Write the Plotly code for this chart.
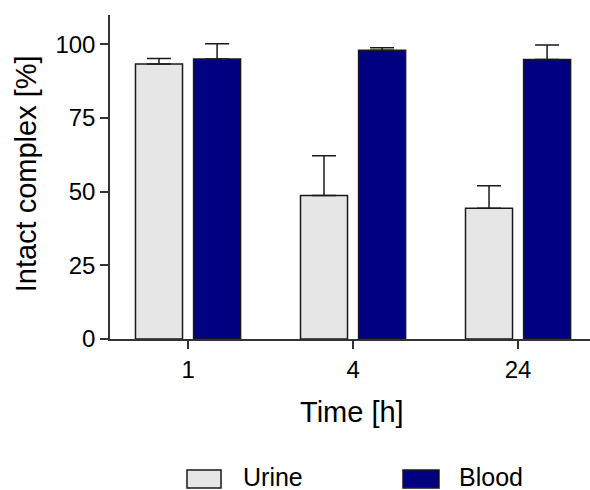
import plotly.graph_objects as go

categories = ["1", "4", "24"]
urine = [93.4, 48.7, 44.4]
urine_err = [1.8, 13.5, 7.6]
blood = [95.1, 98.0, 94.9]
blood_err = [5.1, 0.9, 4.9]
y_ticks = [0, 25, 50, 75, 100]

FONT = "Arial, Liberation Sans, sans-serif"
URINE_C = "#e6e6e6"
BLOOD_C = "#000080"
LINE_C = "#1a1a1a"
BAR_W = 0.285
HALF_SEP = 0.176

fig = go.Figure()
fig.add_trace(go.Bar(
    x=categories, y=urine, name="Urine",
    width=BAR_W, offset=-HALF_SEP - BAR_W / 2,
    marker=dict(color=URINE_C, line=dict(color=LINE_C, width=1.5)),
    error_y=dict(type="data", array=urine_err, symmetric=False, arrayminus=[0]*3,
                 color=LINE_C, thickness=1.5, width=12),
))
fig.add_trace(go.Bar(
    x=categories, y=blood, name="Blood",
    width=BAR_W, offset=HALF_SEP - BAR_W / 2,
    marker=dict(color=BLOOD_C, line=dict(color=LINE_C, width=1.5)),
    error_y=dict(type="data", array=blood_err, symmetric=False, arrayminus=[0]*3,
                 color=LINE_C, thickness=1.5, width=12),
))

fig.update_layout(
    width=590, height=490,
    margin=dict(l=110, r=0, t=15, b=151),
    paper_bgcolor="white", plot_bgcolor="white",
    barmode="overlay",
    showlegend=False,
    font=dict(family=FONT, size=24, color="black"),
)
fig.update_xaxes(
    type="category", range=[-0.473, 2.436],
    showline=True, linecolor="#333333", linewidth=1.5,
    ticks="outside", ticklen=8, tickwidth=1.5, tickcolor="#333333",
    showgrid=False, zeroline=False,
    tickfont=dict(size=24),
)
fig.update_yaxes(
    range=[0, 110], tickvals=y_ticks,
    showline=True, linecolor="#333333", linewidth=1.5,
    ticks="outside", ticklen=8, tickwidth=1.5, tickcolor="#333333",
    showgrid=False, zeroline=False,
    tickfont=dict(size=24),
)

annotations = [
    dict(text="Intact complex [%]", xref="paper", yref="paper", x=-0.176, y=0.51,
         textangle=-90, showarrow=False, xanchor="center", yanchor="middle",
         font=dict(size=29)),
    dict(text="Time [h]", xref="paper", yref="paper", x=0.505, y=-0.225,
         showarrow=False, xanchor="center", yanchor="middle", font=dict(size=29)),
    dict(text="Urine", xref="paper", yref="paper", x=0.273, y=-0.425,
         showarrow=False, xanchor="left", yanchor="middle", font=dict(size=25)),
    dict(text="Blood", xref="paper", yref="paper", x=0.723, y=-0.425,
         showarrow=False, xanchor="left", yanchor="middle", font=dict(size=25)),
]
shapes = [
    dict(type="rect", xref="paper", yref="paper", x0=0.1604, x1=0.2313, y0=-0.460, y1=-0.404,
         fillcolor=URINE_C, line=dict(color=LINE_C, width=1.5)),
    dict(type="rect", xref="paper", yref="paper", x0=0.6104, x1=0.6854, y0=-0.460, y1=-0.404,
         fillcolor=BLOOD_C, line=dict(color=LINE_C, width=1.5)),
]
fig.update_layout(annotations=annotations, shapes=shapes)

fig.write_html("out.html")
